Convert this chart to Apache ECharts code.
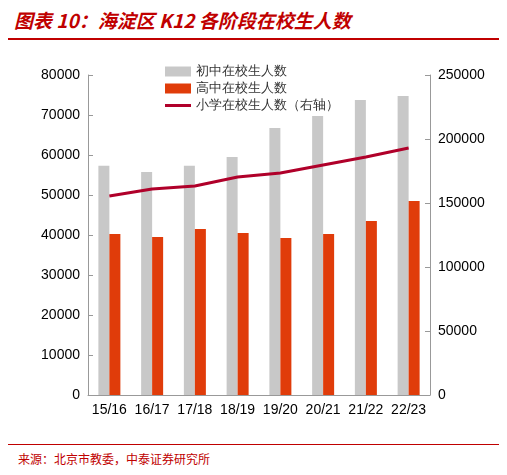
<!DOCTYPE html>
<html lang="zh">
<head>
<meta charset="UTF-8">
<title>海淀区K12</title>
<script src="https://cdn.jsdelivr.net/npm/echarts@6/dist/echarts.min.js"></script>
<style>
  body { margin: 0; background: #fff; font-family: "Noto Sans CJK SC", sans-serif; }
  .title { position: absolute; left: 14px; top: 6px; color: #c00000; font-size: 19px; font-weight: bold; font-style: italic; }
  .line1 { position: absolute; left: 8px; right: 8px; top: 38px; border-top: 2px solid #c00000; }
  .line2 { position: absolute; left: 8px; right: 8px; top: 444px; border-top: 1px solid #c00000; }
  .src { position: absolute; left: 18px; top: 450px; color: #c00000; font-size: 12px; }
  #chart { position: absolute; left: 0; top: 40px; width: 507px; height: 400px; }
</style>
</head>
<body>
<div class="title">图表 10：海淀区 K12 各阶段在校生人数</div>
<div class="line1"></div>
<div id="chart"></div>
<div class="line2"></div>
<div class="src">来源：北京市教委，中泰证券研究所</div>
<script>
// 数据
var years = ['15/16', '16/17', '17/18', '18/19', '19/20', '20/21', '21/22', '22/23'];
var juniorHigh = [57300, 55750, 57300, 59500, 66750, 69750, 73750, 74750];
var seniorHigh = [40250, 39500, 41500, 40500, 39250, 40250, 43500, 48500];
var primary = [155500, 161000, 163300, 170300, 173400, 179700, 186000, 193000];

var chart = echarts.init(document.getElementById('chart'));
var axisText = { color: '#000', fontSize: 14, fontFamily: 'Liberation Sans' };
var plain = function (v) { return String(v); };
chart.setOption({
    animation: false,
    grid: { left: 88, right: 77, top: 35, bottom: 45 },
    legend: {
        orient: 'vertical', left: 160, top: 20, itemGap: 4,
        itemWidth: 26, itemHeight: 10,
        textStyle: { fontSize: 13, color: '#333' },
        data: [
            { name: '初中在校生人数', icon: 'rect' },
            { name: '高中在校生人数', icon: 'rect' },
            { name: '小学在校生人数（右轴）', icon: 'path://M0,4L26,4L26,7L0,7Z' }
        ]
    },
    xAxis: {
        type: 'category', data: years,
        axisLine: { lineStyle: { color: '#999' } },
        axisTick: { show: false },
        axisLabel: Object.assign({ interval: 0 }, axisText)
    },
    yAxis: [{
        type: 'value', min: 0, max: 80000, interval: 10000,
        splitLine: { show: false },
        axisLine: { show: true, lineStyle: { color: '#999' } },
        axisTick: { show: true, inside: true },
        axisLabel: Object.assign({ formatter: plain }, axisText)
    }, {
        type: 'value', min: 0, max: 250000, interval: 50000,
        splitLine: { show: false },
        axisLine: { show: true, lineStyle: { color: '#999' } },
        axisTick: { show: true, inside: true },
        axisLabel: Object.assign({ formatter: plain }, axisText)
    }],
    series: [{
        name: '初中在校生人数', type: 'bar', data: juniorHigh,
        barWidth: 11, barGap: '0%', itemStyle: { color: '#c8c8c8' }
    }, {
        name: '高中在校生人数', type: 'bar', data: seniorHigh,
        barWidth: 11, itemStyle: { color: '#e03c0a' }
    }, {
        name: '小学在校生人数（右轴）', type: 'line', yAxisIndex: 1, data: primary,
        symbol: 'none', lineStyle: { color: '#b0002a', width: 3 }, itemStyle: { color: '#b0002a' }
    }]
});
</script>
</body>
</html>
